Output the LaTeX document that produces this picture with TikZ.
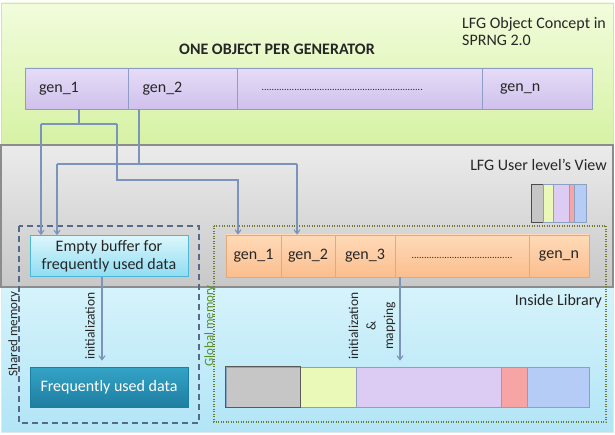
\documentclass[tikz,border=0pt]{standalone}
\usepackage{fontspec}
\setmainfont{Carlito}
\usetikzlibrary{arrows.meta,calc}
\definecolor{greentop}{HTML}{F2FCDC}
\definecolor{greenbot}{HTML}{D6F2A4}
\definecolor{graytop}{HTML}{EBEBEB}
\definecolor{graybot}{HTML}{C8C8C8}
\definecolor{bluetop}{HTML}{D6F3FB}
\definecolor{bluebot}{HTML}{B2E5F6}
\definecolor{lavtop}{HTML}{E6DCF7}
\definecolor{lavbot}{HTML}{CFC1EC}
\definecolor{lavb}{HTML}{8E9CC8}
\definecolor{orgtop}{HTML}{FFDAB8}
\definecolor{orgbot}{HTML}{FBBE8E}
\definecolor{orgb}{HTML}{E2AA7C}
\definecolor{connc}{HTML}{7C94BC}
\definecolor{buftop}{HTML}{DDF7FC}
\definecolor{bufbot}{HTML}{8EDCF2}
\definecolor{bufb}{HTML}{4CB8D8}
\definecolor{freqtop}{HTML}{34A4C6}
\definecolor{freqbot}{HTML}{1E7EA2}
\definecolor{dashc}{HTML}{56698A}
\definecolor{dotc}{HTML}{6E7A30}
\definecolor{globc}{HTML}{5C8C28}
\definecolor{sgray}{HTML}{C6C6C6}
\definecolor{sgreen}{HTML}{EAF8B8}
\definecolor{slav}{HTML}{DCCBF2}
\definecolor{sred}{HTML}{F6A4A4}
\definecolor{sblue}{HTML}{B4CCF6}
\definecolor{segb}{HTML}{8EA0C0}
\definecolor{textc}{HTML}{262626}
\tikzset{
  lbl/.style={font=\fontsize{16}{18}\selectfont, text=textc},
  rotlbl/.style={font=\fontsize{13}{15}\selectfont, rotate=90, align=center, text=textc},
  conn/.style={draw=connc, line width=1.1pt},
  arr/.style={conn, -{Straight Barb[length=4pt,width=6pt]}},
  topgen/.style={rectangle, draw=lavb, line width=0.9pt, top color=lavtop, bottom color=lavbot,
    minimum height=41pt, inner ysep=0pt, align=left, lbl},
  lowgen/.style={rectangle, draw=orgb, line width=0.8pt, top color=orgtop, bottom color=orgbot,
    minimum height=42pt, inner sep=0pt, lbl},
  seg/.style={rectangle, draw=segb, line width=0.8pt, minimum height=40pt, inner sep=0pt},
  legseg/.style={rectangle, draw=segb, line width=0.6pt, minimum height=38pt, inner sep=0pt},
  dotrow/.style={font=\fontsize{10}{12}\selectfont},
}
\begin{document}
\begin{tikzpicture}[x=1pt,y=-1pt]
\useasboundingbox (0,0) rectangle (615,435);
\fill[white] (0,0) rectangle (615,435);
% bands
\shade[top color=greentop, bottom color=greenbot] (1,3) rectangle (613,145);
\draw[draw=greenbot!70!black!40, line width=0.6pt] (1,3) rectangle (613,145);
\shade[top color=bluetop, bottom color=bluebot] (1,287) rectangle (613,432);
\draw[draw=bluebot!80!black!30, line width=0.6pt] (1,287) rectangle (613,432);
\shade[top color=graytop, bottom color=graybot] (1,145) rectangle (613,287);
\draw[draw=black!45, line width=1.2pt] (1,145) rectangle (613,287);

% titles
\node[lbl, font=\fontsize{16}{17.5}\selectfont, anchor=north west, align=left, inner sep=0pt] (ttl) at (462,17) {LFG Object Concept in\\SPRNG 2.0};
\node[lbl, font=\fontsize{16}{18}\selectfont\bfseries] (one) at (277,49) {ONE OBJECT PER GENERATOR};
\node[lbl, anchor=east, inner sep=0pt] (uview) at (607,165) {LFG User level’s View};
\node[lbl, anchor=east, inner sep=0pt] (inlib) at (602,301) {Inside Library};

% top row
\node[topgen, text width=75pt, inner xsep=14pt] (t1) at (76.5,88.5) {gen\_1};
\node[topgen, text width=81pt, inner xsep=14pt] (t2) at (183,88.5) {gen\_2};
\node[topgen, text width=197pt, inner xsep=24pt, dotrow] (td) at (360,88.5) {\strut................................................................};
\node[topgen, text width=74pt, inner xsep=18pt] (tn) at (537,88.5) {gen\_n};

% legend strip
\node[legseg, fill=sgray, draw=black!70, line width=0.9pt, minimum width=12pt] (l1) at (537,203) {};
\node[legseg, fill=sgreen, minimum width=10pt] (l2) at (548,203) {};
\node[legseg, fill=slav, minimum width=16pt] (l3) at (561,203) {};
\node[legseg, fill=sred, minimum width=5pt] (l4) at (571.5,203) {};
\node[legseg, fill=sblue, minimum width=12pt] (l5) at (580,203) {};

% memory frames
\draw[dashc, line width=1.6pt, dash pattern=on 6pt off 4pt] (19,226) rectangle (199,423);
\draw[dotc, line width=1.2pt, dash pattern=on 1pt off 1.5pt] (214,226) rectangle (606,422);
\node[rotlbl] (shm) at (14,334) {Shared memory};
\node[rotlbl, text=globc] (glm) at (210,326) {Global memory};

% buffer and frequently used data
\node[rectangle, draw=bufb, line width=0.8pt, top color=buftop, bottom color=bufbot,
  minimum width=158pt, minimum height=41pt, inner sep=0pt, align=center, lbl] (buf) at (109,256) {Empty buffer for\\frequently used data};
\node[rectangle, draw=freqbot, line width=0.8pt, top color=freqtop, bottom color=freqbot,
  minimum width=158pt, minimum height=40pt, inner sep=0pt, lbl, text=white] (freq) at (109,387) {Frequently used data};

% lower row
\node[lowgen, minimum width=55pt] (g1) at (253.5,256) {gen\_1};
\node[lowgen, minimum width=54pt] (g2) at (308,256) {gen\_2};
\node[lowgen, minimum width=60pt] (g3) at (365,256) {gen\_3};
\node[lowgen, minimum width=134pt, dotrow] (gd) at (462,256) {\strut........................................};
\node[lowgen, minimum width=60pt] (gn) at (559,256) {gen\_n};

% bottom bar
\node[seg, fill=sgray, minimum width=74pt] (b1) at (263,387) {};
\node[seg, fill=sgreen, minimum width=56pt] (b2) at (328,387) {};
\node[seg, fill=slav, minimum width=145pt] (b3) at (428.5,387) {};
\node[seg, fill=sred, minimum width=26pt] (b4) at (514,387) {};
\node[seg, fill=sblue, minimum width=62pt] (b5) at (558,387) {};
\draw[black!65, line width=0.9pt] (b1.north west) rectangle (b1.south east);

% connectors
\coordinate (ja) at (79,124);
\coordinate (jaL) at (41,124);
\coordinate (jaR) at (117,124);
\coordinate (jaRc) at (238,180);
\coordinate (jb) at (139,164);
\coordinate (jbL) at (57,164);
\coordinate (jbR) at (297,164);
\draw[conn] (t1.south -| ja) -- (ja);
\draw[conn] (jaL) -- (jaR);
\draw[arr] (jaL) -- (jaL |- buf.north);
\draw[arr] (jaR) |- (jaRc) -- (jaRc |- g1.north);
\draw[conn] (t2.south -| jb) -- (jb);
\draw[conn] (jbL) -- (jbR);
\draw[arr] (jbL) -- (jbL |- buf.north);
\draw[arr] (jbR) -- (jbR |- g2.north);

% initialization arrows
\coordinate (ia) at (102,0);
\coordinate (im) at (400,0);
\draw[arr, shorten >=6pt] (buf.south -| ia) -- (freq.north -| ia);
\draw[arr, shorten >=6pt] (gd.south -| im) -- (b3.north -| im);
\node[rotlbl, font=\fontsize{13.5}{15}\selectfont] (ini1) at (90,326) {initialization};
\node[rotlbl, font=\fontsize{13.5}{17.5}\selectfont] (ini2) at (372,326) {initialization\\\&\\mapping};
\end{tikzpicture}
\end{document}
